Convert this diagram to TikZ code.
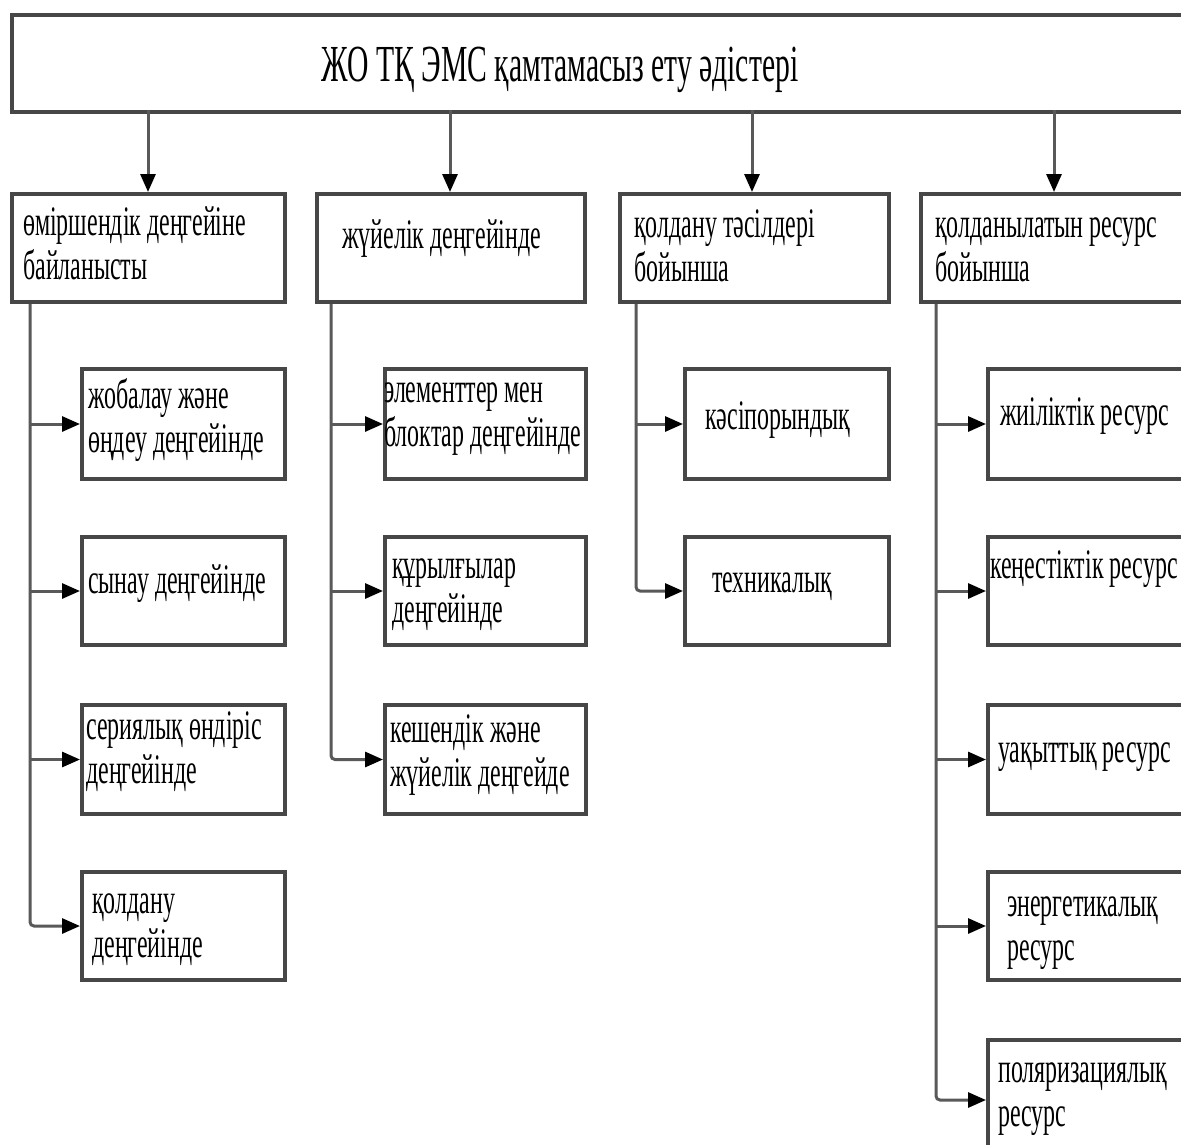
\documentclass[tikz,border=0pt]{standalone}
\usepackage{fontspec}
\setmainfont{Liberation Serif}[FakeStretch=0.57]
\usetikzlibrary{arrows.meta,calc}
\begin{document}
\begin{tikzpicture}[x=1pt,y=-1pt,
 box/.style={draw=black!72, line width=4pt, fill=white, inner sep=0pt, anchor=north west},
 txt/.style={anchor=base west, inner sep=0pt, font=\fontsize{42}{44}\selectfont, align=left},
 conn/.style={draw=black!65, line width=3pt},
 arr/.style={conn, -{Triangle[length=18pt,width=15pt,color=black]}}]
\useasboundingbox (0,0) rectangle (1181,1144);
\clip (0,0) rectangle (1181,1144);
\fill[white] (0,0) rectangle (1181,1144);

% title
\node[box, minimum width=1190pt, minimum height=97pt] (T) at (10,13) {};
\node[anchor=base, inner sep=0pt, font=\fontsize{52}{54}\selectfont] (Tt) at (560,81) {ЖО ТҚ ЭМС қамтамасыз ету әдістері};

% level 1
\node[box, minimum width=273pt, minimum height=108pt] (A) at (10,192) {};
\node[box, minimum width=268pt, minimum height=108pt] (B) at (315,192) {};
\node[box, minimum width=269pt, minimum height=108pt] (C) at (618,192) {};
\node[box, minimum width=280pt, minimum height=108pt] (D) at (919,192) {};
\node[txt] (At) at (23,279) {өміршендік деңгейіне\\байланысты};
\node[txt] (Bt) at (342,248) {жүйелік деңгейінде};
\node[txt] (Ct) at (634,281) {қолдану тәсілдері\\бойынша};
\node[txt] (Dt) at (935,281) {қолданылатын ресурс\\бойынша};

\foreach \n/\x in {A/148,B/450,C/752,D/1054}{
  \coordinate (s\n) at (\x,110);
  \draw[arr] (s\n) -- (s\n |- \n.north);
}

% column 1
\node[box, minimum width=203pt, minimum height=110pt] (c11) at (80,367) {};
\node[box, minimum width=203pt, minimum height=108pt] (c12) at (80,535) {};
\node[box, minimum width=203pt, minimum height=109pt] (c13) at (80,703) {};
\node[box, minimum width=203pt, minimum height=108pt] (c14) at (80,870) {};
\node[txt] (c11t) at (88,452) {жобалау және\\өңдеу деңгейінде};
\node[txt] (c12t) at (88,593) {сынау деңгейінде};
\node[txt] (c13t) at (86,783) {сериялық өндіріс\\деңгейінде};
\node[txt] (c14t) at (92,957) {қолдану\\деңгейінде};

% column 2
\node[box, minimum width=201pt, minimum height=110pt] (c21) at (383,367) {};
\node[box, minimum width=201pt, minimum height=108pt] (c22) at (383,535) {};
\node[box, minimum width=201pt, minimum height=109pt] (c23) at (383,703) {};
\node[txt] (c21t) at (384,446) {элементтер мен\\блоктар деңгейінде};
\node[txt] (c22t) at (392,622) {құрылғылар\\деңгейінде};
\node[txt] (c23t) at (390,786) {кешендік және\\жүйелік деңгейде};

% column 3
\node[box, minimum width=204pt, minimum height=110pt] (c31) at (683,367) {};
\node[box, minimum width=204pt, minimum height=108pt] (c32) at (683,535) {};
\node[txt] (c31t) at (705,429) {кәсіпорындық};
\node[txt] (c32t) at (712,592) {техникалық};

% column 4
\node[box, minimum width=220pt, minimum height=110pt] (c41) at (986,367) {};
\node[box, minimum width=220pt, minimum height=108pt] (c42) at (986,535) {};
\node[box, minimum width=220pt, minimum height=109pt] (c43) at (986,703) {};
\node[box, minimum width=220pt, minimum height=108pt] (c44) at (986,870) {};
\node[box, minimum width=220pt, minimum height=120pt] (c45) at (986,1038) {};
\node[txt] (c41t) at (1000,425) {жиіліктік ресурс};
\node[txt] (c42t) at (990,578) {кеңестіктік ресурс};
\node[txt] (c43t) at (998,762) {уақыттық ресурс};
\node[txt] (c44t) at (1007,960) {энергетикалық\\ресурс};
\node[txt] (c45t) at (998,1126) {поляризациялық\\ресурс};

% trunks
\coordinate (tA) at ($(A.south west)+(20,0)$);
\coordinate (tB) at ($(B.south west)+(16,0)$);
\coordinate (tC) at ($(C.south west)+(18,0)$);
\coordinate (tD) at ($(D.south west)+(17,0)$);

\draw[arr, rounded corners=4pt] (tA) |- (c14.west);
\foreach \c in {c11,c12,c13} \draw[arr] (tA |- \c.west) -- (\c.west);
\draw[arr, rounded corners=4pt] (tB) |- (c23.west);
\foreach \c in {c21,c22} \draw[arr] (tB |- \c.west) -- (\c.west);
\draw[arr, rounded corners=4pt] (tC) |- (c32.west);
\draw[arr] (tC |- c31.west) -- (c31.west);
\draw[arr, rounded corners=4pt] (tD) |- (c45.west);
\foreach \c in {c41,c42,c43,c44} \draw[arr] (tD |- \c.west) -- (\c.west);
\end{tikzpicture}
\end{document}
